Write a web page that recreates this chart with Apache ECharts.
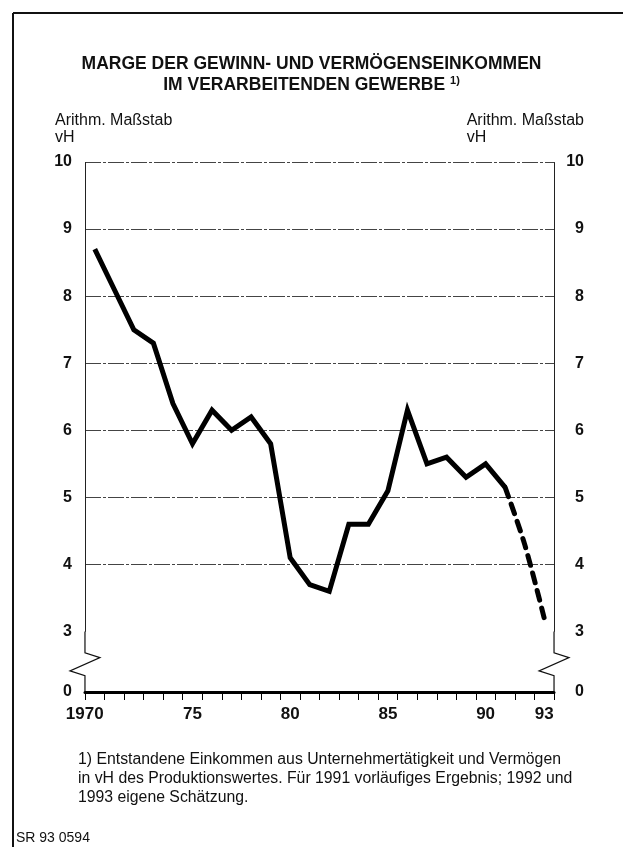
<!DOCTYPE html>
<html>
<head>
<meta charset="utf-8">
<title>Marge der Gewinn- und Vermögenseinkommen</title>
<script src="https://cdn.jsdelivr.net/npm/echarts@6/dist/echarts.min.js"></script>
<style>
  html, body { margin: 0; padding: 0; background: #fff; }
  #chart { width: 623px; height: 847px; }
</style>
</head>
<body>
<div id="chart"></div>
<script>
// Jahre 1970 bis 1993
const years = ['1970', '1971', '1972', '1973', '1974', '1975', '1976', '1977', '1978', '1979',
  '1980', '1981', '1982', '1983', '1984', '1985', '1986', '1987', '1988', '1989',
  '1990', '1991', '1992', '1993']
// Ergebnis (bis 1991), vH
const marge = [8.7, 8.1, 7.5, 7.3, 6.4, 5.8, 6.3, 6.0, 6.2, 5.8,
  4.1, 3.7, 3.6, 4.6, 4.6, 5.1, 6.3, 5.5, 5.6, 5.3,
  5.5, 5.15, null, null]
// Schätzung 1992 und 1993 (gestrichelt)
const schaetzung = [null, null, null, null, null, null, null, null, null, null,
  null, null, null, null, null, null, null, null, null, null,
  null, 5.15, 4.3, 3.2]
// beschriftete Jahre und ihre Texte
const labelYears = ['1970', '1975', '1980', '1985', '1990', '1993']
const labelTexts = ['1970', '75', '80', '85', '90', '93']

const FONT = 'Liberation Sans, Arial, sans-serif'

const chart = echarts.init(document.getElementById('chart'), null, { renderer: 'canvas' })

function yAxisDef(pos) {
  return {
    type: 'value',
    position: pos,
    min: 0,
    max: 10,
    interval: 1,
    breaks: [{ start: 0, end: 3, gap: 0.9 }],
    breakArea: { show: false },
    axisLine: { show: true, lineStyle: { color: '#222', width: 1 } },
    axisTick: { show: false },
    splitLine: { show: pos === 'left', lineStyle: { color: '#444', width: 1, type: [16, 2, 3, 2] } },
    axisLabel: {
      color: '#111',
      fontFamily: FONT,
      fontWeight: 'bold',
      fontSize: 16,
      margin: pos === 'left' ? 13 : 30,
      align: 'right'
    }
  }
}

chart.setOption({
  animation: false,
  backgroundColor: '#fff',
  title: {
    left: 'center',
    top: 49,
    text: '{t|MARGE DER GEWINN- UND VERMÖGENSEINKOMMEN}\n{t|IM VERARBEITENDEN GEWERBE }{s|1)}',
    textStyle: {
      rich: {
        t: { fontFamily: FONT, fontWeight: 'bold', fontSize: 17.5, color: '#111', lineHeight: 21 },
        s: { fontFamily: FONT, fontWeight: 'bold', fontSize: 11, color: '#111', lineHeight: 21, verticalAlign: 'top' }
      }
    }
  },
  grid: {
    left: 85,
    right: 69,
    top: 162,
    bottom: 155
  },
  xAxis: {
    type: 'category',
    data: years,
    boundaryGap: true,
    axisLine: { lineStyle: { color: '#000', width: 3 } },
    axisTick: { show: true, length: 8, interval: 0, lineStyle: { color: '#000', width: 1 } },
    axisLabel: {
      interval: 0,
      margin: 14,
      color: '#111',
      fontFamily: FONT,
      fontWeight: 'bold',
      fontSize: 17,
      formatter: function (v) {
        const i = labelYears.indexOf(v)
        if (i < 0) return ''
        return i === 0 ? '{f|' + labelTexts[i] + '}' : labelTexts[i]
      },
      rich: {
        f: { fontFamily: FONT, fontWeight: 'bold', fontSize: 17, color: '#111', padding: [0, 20, 0, 0] }
      }
    },
    splitLine: { show: false }
  },
  yAxis: [yAxisDef('left'), yAxisDef('right')],
  series: [{
    name: 'Ergebnis',
    type: 'line',
    data: marge,
    symbol: 'none',
    lineStyle: { color: '#000', width: 5, join: 'miter' }
  }, {
    name: 'Schätzung',
    type: 'line',
    data: schaetzung,
    symbol: 'none',
    smooth: 0.3,
    lineStyle: { color: '#000', width: 5, type: [10, 8], cap: 'round' }
  }]
})

// Rahmen, Texte und Zickzack-Bruchzeichen auf beiden senkrechten Achsen
const y3 = chart.convertToPixel({ yAxisIndex: 0 }, 3)
const y0 = chart.convertToPixel({ yAxisIndex: 0 }, 0)
const xl = chart.convertToPixel({ xAxisIndex: 0 }, years[0]) - 9.8
const xr = chart.convertToPixel({ xAxisIndex: 0 }, years[years.length - 1]) + 9.8
const h = y0 - y3
const zig = function (x) {
  return {
    type: 'polyline',
    shape: {
      points: [[x, y3], [x, y3 + 0.35 * h], [x + 15, y3 + 0.43 * h], [x - 15, y3 + 0.65 * h],
        [x, y3 + 0.73 * h], [x, y0]]
    },
    style: { stroke: '#111', lineWidth: 1.2, fill: null }
  }
}
chart.setOption({
  graphic: [
    { type: 'line', shape: { x1: 13, y1: 13, x2: 13, y2: 847 }, style: { stroke: '#111', lineWidth: 2 } },
    { type: 'line', shape: { x1: 13, y1: 13, x2: 623, y2: 13 }, style: { stroke: '#111', lineWidth: 2 } },
    { type: 'text', left: 55, top: 112, style: { text: 'Arithm. Maßstab\nvH', font: '16px ' + FONT, fill: '#111', lineHeight: 17 } },
    { type: 'text', right: 39, top: 112, style: { text: 'Arithm. Maßstab\nvH', font: '16px ' + FONT, fill: '#111', lineHeight: 17, align: 'right' } },
    {
      type: 'text', left: 78, top: 750,
      style: {
        text: '1) Entstandene Einkommen aus Unternehmertätigkeit und Vermögen\nin vH des Produktionswertes. Für 1991 vorläufiges Ergebnis; 1992 und\n1993 eigene Schätzung.',
        font: '15.8px ' + FONT, fill: '#111', lineHeight: 19
      }
    },
    { type: 'text', left: 16, top: 831, style: { text: 'SR 93 0594', font: '14px ' + FONT, fill: '#111' } },
    zig(xl),
    zig(xr)
  ]
})
</script>
</body>
</html>
